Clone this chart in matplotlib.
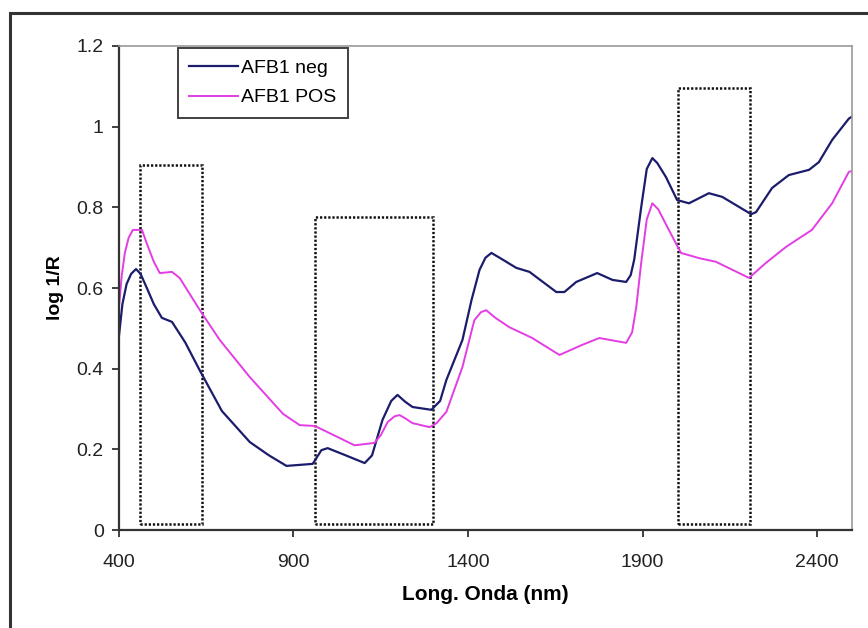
import matplotlib.pyplot as plt
from matplotlib.patches import Rectangle

plt.rcParams['font.family'] = ['Liberation Sans', 'DejaVu Sans']

# spectrum, AFB1 negative sample
wl_neg = [400, 410, 422, 435, 449, 462, 480, 500, 523, 552, 590, 632, 695, 775, 830, 880,
          955, 961, 980, 998, 1050, 1104, 1125, 1155, 1180, 1198, 1220, 1241, 1295, 1320,
          1338, 1384, 1410, 1433, 1450, 1467, 1500, 1538, 1576, 1653, 1676, 1710, 1770,
          1814, 1853, 1866, 1876, 1896, 1912, 1928, 1942, 1967, 1999, 2033, 2090, 2128,
          2211, 2225, 2271, 2319, 2377, 2405, 2443, 2491, 2500]
abs_neg = [0.48, 0.56, 0.61, 0.635, 0.647, 0.635, 0.60, 0.56, 0.526, 0.516, 0.465, 0.395,
           0.295, 0.218, 0.185, 0.159, 0.164, 0.172, 0.198, 0.203, 0.185, 0.166, 0.185,
           0.273, 0.32, 0.335, 0.318, 0.305, 0.298, 0.32, 0.372, 0.471, 0.57, 0.645, 0.675,
           0.687, 0.67, 0.65, 0.64, 0.59, 0.59, 0.615, 0.637, 0.62, 0.615, 0.632, 0.67,
           0.80, 0.895, 0.922, 0.91, 0.875, 0.818, 0.81, 0.835, 0.826, 0.783, 0.788, 0.848,
           0.88, 0.893, 0.912, 0.967, 1.02, 1.025]

# spectrum, AFB1 positive sample
wl_pos = [400, 408, 417, 428, 440, 466, 480, 500, 517, 552, 574, 632, 689, 775, 870, 918,
          961, 1004, 1075, 1132, 1150, 1170, 1190, 1204, 1220, 1241, 1290, 1310, 1338, 1384,
          1418, 1437, 1452, 1480, 1518, 1584, 1662, 1727, 1776, 1853, 1870, 1882, 1896,
          1912, 1928, 1945, 1971, 2010, 2062, 2110, 2205, 2253, 2311, 2385, 2443, 2491,
          2500]
abs_pos = [0.55, 0.63, 0.687, 0.725, 0.744, 0.744, 0.71, 0.665, 0.637, 0.64, 0.625, 0.545,
           0.471, 0.379, 0.288, 0.26, 0.258, 0.24, 0.21, 0.216, 0.235, 0.268, 0.282, 0.285,
           0.277, 0.265, 0.255, 0.265, 0.293, 0.404, 0.52, 0.54, 0.545, 0.525, 0.503, 0.476,
           0.434, 0.459, 0.476, 0.464, 0.49, 0.553, 0.662, 0.77, 0.81, 0.795, 0.751, 0.687,
           0.674, 0.665, 0.625, 0.662, 0.702, 0.744, 0.81, 0.888, 0.89]

# highlighted wavelength windows: (start, end, top)
windows = [(460, 637, 0.905), (961, 1300, 0.776), (2002, 2208, 1.096)]
window_floor = 0.015

fig = plt.figure(figsize=(8.68, 6.28), dpi=100)
fig.patches.append(Rectangle((0.0115, -0.05), 1.1, 1.029, transform=fig.transFigure,
                             fill=False, edgecolor='#333333', linewidth=2.2))

ax = fig.add_axes([0.137, 0.156, 0.8446, 0.7708])
ax.plot(wl_neg, abs_neg, color='#1c1c6c', linewidth=1.6, label='AFB1 neg')
ax.plot(wl_pos, abs_pos, color='#e33de3', linewidth=1.4, label='AFB1 POS')

for x0, x1, top in windows:
    ax.add_patch(Rectangle((x0, window_floor), x1 - x0, top - window_floor, fill=False,
                           edgecolor='#111111', linestyle=(0, (0.9, 0.75)), linewidth=1.8))

ax.set_xlim(400, 2500)
ax.set_ylim(0, 1.2)
ax.set_xticks([400, 900, 1400, 1900, 2400])
ax.set_yticks([0, 0.2, 0.4, 0.6, 0.8, 1.0, 1.2])
ax.set_yticklabels(['0', '0.2', '0.4', '0.6', '0.8', '1', '1.2'])
ax.tick_params(direction='out', length=5, width=1.3, labelsize=14, colors='#333333',
               labelcolor='#222222')
ax.tick_params(axis='y', pad=6)
ax.tick_params(axis='x', pad=12)

for side in ['left', 'bottom']:
    ax.spines[side].set_color('#333333')
    ax.spines[side].set_linewidth(1.6)
for side in ['top', 'right']:
    ax.spines[side].set_color('#9a9a9a')
    ax.spines[side].set_linewidth(1.2)

ax.set_xlabel('Long. Onda (nm)', fontsize=15, fontweight='bold', labelpad=10)
ax.set_ylabel('log 1/R', fontsize=14, fontweight='bold', labelpad=9)

leg = ax.legend(loc='upper left', bbox_to_anchor=(0.08, 0.996), fontsize=14, frameon=True,
                fancybox=False, handlelength=2.5, handletextpad=0.15, borderpad=0.6,
                labelspacing=0.6, borderaxespad=0)
leg.get_frame().set_edgecolor('#111111')
leg.get_frame().set_linewidth(1.4)

fig.savefig('out.png', dpi=100)
